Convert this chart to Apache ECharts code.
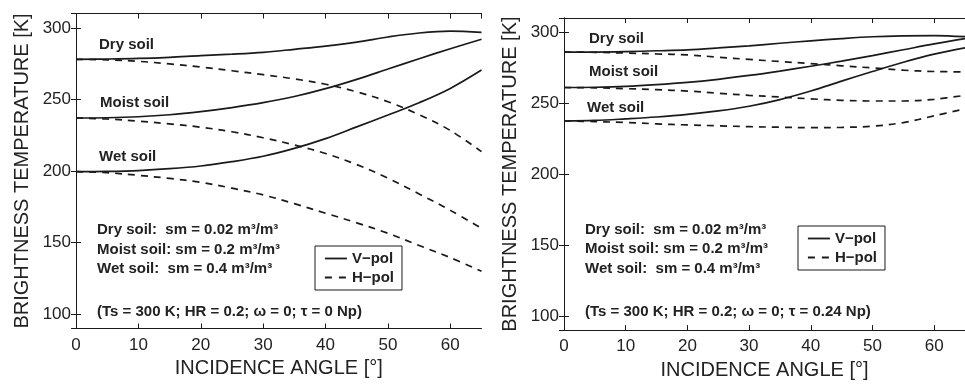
<!DOCTYPE html>
<html>
<head>
<meta charset="utf-8">
<script src="https://cdn.jsdelivr.net/npm/echarts@6/dist/echarts.min.js"></script>
<style>
html,body{margin:0;padding:0;background:#fff;}
#chart{width:965px;height:385px;}
</style>
</head>
<body>
<div id="chart"></div>
<script>
// Incidence angles (degrees)
const angles = [0, 5, 10, 15, 20, 25, 30, 35, 40, 45, 50, 55, 60, 65];

// Left panel: tau = 0 Np
const dryV_L   = [278, 278.2, 278.6, 279.4, 280.6, 281.6, 282.9, 285.0, 287.2, 290.0, 293.6, 296.4, 297.7, 296.8];
const dryH_L   = [278, 277.6, 276.6, 274.8, 272.6, 270.0, 267.3, 264.3, 260.6, 255.3, 248.4, 239.3, 228.3, 213.5];
const moistV_L = [237, 237.2, 237.9, 239.3, 241.5, 244.3, 247.7, 252.0, 257.5, 264.0, 271.2, 278.4, 285.4, 292.0];
const moistH_L = [237, 236.3, 234.8, 232.9, 230.6, 227.4, 223.2, 218.2, 212.2, 204.5, 195.0, 184.0, 172.5, 160.0];
const wetV_L   = [199.5, 199.7, 200.3, 201.6, 203.5, 206.5, 210.3, 215.8, 222.6, 230.8, 239.1, 247.7, 257.7, 270.5];
const wetH_L   = [199.5, 198.8, 197.0, 194.8, 192.1, 188.0, 183.3, 177.2, 170.5, 163.8, 156.5, 148.0, 139.5, 130.0];

// Right panel: tau = 0.24 Np
const dryV_R   = [286, 286, 286.3, 286.9, 287.6, 288.9, 290.4, 292.2, 293.9, 295.5, 296.8, 297.4, 297.6, 296.8];
const dryH_R   = [286, 285.8, 285.3, 284.7, 284.0, 282.4, 280.8, 279.3, 277.9, 276.3, 274.8, 273.2, 272.3, 272.0];
const moistV_R = [261, 261.2, 261.8, 263.0, 264.6, 266.8, 269.5, 272.6, 276.0, 279.6, 283.5, 287.6, 291.7, 295.4];
const moistH_R = [261, 260.8, 260.2, 259.5, 258.5, 257.0, 255.5, 254.3, 253.0, 252.0, 251.5, 251.5, 252.7, 255.5];
const wetV_R   = [237.4, 237.8, 238.9, 240.2, 242.0, 244.5, 247.8, 252.5, 258.5, 265.5, 272.3, 278.8, 284.5, 289.0];
const wetH_R   = [237.4, 237.0, 236.3, 235.4, 234.6, 234.0, 233.4, 233.0, 232.7, 232.9, 233.7, 236.3, 241.0, 246.0];

const xTitle = 'INCIDENCE ANGLE [°]';
const yTitle = 'BRIGHTNESS TEMPERATURE [K]';
const legendNames = ['V\u2212pol', 'H\u2212pol'];

const FONT = '"Liberation Sans", Arial, sans-serif';
const INK = '#1a1a1a';
const DASH = [7, 6];

function pairs(arr) { return angles.map((a, i) => [a, arr[i]]); }

function mainX(gi) {
  return {
    type: 'value', gridIndex: gi, min: 0, max: 65, interval: 10, position: 'bottom',
    name: xTitle, nameLocation: 'middle', nameGap: 27,
    nameTextStyle: { fontFamily: FONT, fontSize: 20, color: '#222' },
    axisLine: { show: true, lineStyle: { color: INK, width: 1 } },
    axisTick: { show: true, inside: true, length: 5, lineStyle: { color: INK } },
    axisLabel: { fontFamily: FONT, fontSize: 17, color: '#222', margin: 8, showMaxLabel: false },
    splitLine: { show: false }
  };
}
function topX(gi) {
  return {
    type: 'value', gridIndex: gi, min: 0, max: 65, interval: 10, position: 'top',
    axisLine: { show: true, lineStyle: { color: INK, width: 1 } },
    axisTick: { show: true, inside: true, length: 5, lineStyle: { color: INK } },
    axisLabel: { show: false }, splitLine: { show: false }
  };
}
function mainY(gi) {
  return {
    type: 'value', gridIndex: gi, min: 90, max: 310, splitNumber: 5, position: 'left',
    name: yTitle, nameLocation: 'middle', nameGap: 44,
    nameTextStyle: { fontFamily: FONT, fontSize: 20, color: '#222' },
    axisLine: { show: true, lineStyle: { color: INK, width: 1 } },
    axisTick: { show: true, inside: true, length: 5, lineStyle: { color: INK } },
    axisLabel: { fontFamily: FONT, fontSize: 17, color: '#222', margin: 5, showMinLabel: false, showMaxLabel: false },
    splitLine: { show: false }
  };
}
function rightY(gi) {
  return {
    type: 'value', gridIndex: gi, min: 90, max: 310, splitNumber: 5, position: 'right',
    axisLine: { show: true, lineStyle: { color: INK, width: 1 } },
    axisTick: { show: true, inside: true, length: 5, lineStyle: { color: INK } },
    axisLabel: { show: false }, splitLine: { show: false }
  };
}

function lineSeries(name, data, xi, yi, dashed) {
  return {
    type: 'line', name: name, xAxisIndex: xi, yAxisIndex: yi,
    data: pairs(data), smooth: 0.35, symbol: 'none', silent: true,
    lineStyle: { color: INK, width: 1.7, type: dashed ? DASH : 'solid' },
    itemStyle: { color: INK }
  };
}

const series = [
  lineSeries(legendNames[0], dryV_L, 0, 0, false),
  lineSeries(legendNames[1], dryH_L, 0, 0, true),
  lineSeries(legendNames[0], moistV_L, 0, 0, false),
  lineSeries(legendNames[1], moistH_L, 0, 0, true),
  lineSeries(legendNames[0], wetV_L, 0, 0, false),
  lineSeries(legendNames[1], wetH_L, 0, 0, true),
  lineSeries(legendNames[0], dryV_R, 2, 2, false),
  lineSeries(legendNames[1], dryH_R, 2, 2, true),
  lineSeries(legendNames[0], moistV_R, 2, 2, false),
  lineSeries(legendNames[1], moistH_R, 2, 2, true),
  lineSeries(legendNames[0], wetV_R, 2, 2, false),
  lineSeries(legendNames[1], wetH_R, 2, 2, true)
];

function legendAt(left, top) {
  return {
    data: [
      { name: legendNames[0], lineStyle: { type: 'solid', width: 1.8, color: INK } },
      { name: legendNames[1], lineStyle: { type: [7, 7], width: 1.8, color: INK } }
    ],
    orient: 'vertical', left: left, top: top,
    borderColor: INK, borderWidth: 1, padding: [5, 8, 5, 9], itemGap: 4,
    itemWidth: 22, itemHeight: 14, selectedMode: false,
    itemStyle: { opacity: 0, borderWidth: 0 },
    textStyle: { fontFamily: FONT, fontSize: 15, fontWeight: 'bold', color: '#222' }
  };
}

function txt(x, y, s) {
  return { type: 'text', x: x, y: y, silent: true,
    style: { text: s, fill: '#222', font: 'bold 15px ' + FONT, verticalAlign: 'middle', align: 'left' } };
}

const graphics = [
  txt(99, 45, 'Dry soil'),
  txt(100, 103, 'Moist soil'),
  txt(99, 157, 'Wet soil'),
  txt(97, 230, 'Dry soil:  sm = 0.02 m³/m³'),
  txt(97, 250, 'Moist soil: sm = 0.2 m³/m³'),
  txt(97, 269, 'Wet soil:  sm = 0.4 m³/m³'),
  txt(97, 312, '(Ts = 300 K; HR = 0.2; \u03c9 = 0; \u03c4 = 0 Np)'),
  txt(589, 39, 'Dry soil'),
  txt(589, 72, 'Moist soil'),
  txt(587, 108, 'Wet soil'),
  txt(585, 230, 'Dry soil:  sm = 0.02 m³/m³'),
  txt(585, 249, 'Moist soil: sm = 0.2 m³/m³'),
  txt(585, 269, 'Wet soil:  sm = 0.4 m³/m³'),
  txt(585, 312, '(Ts = 300 K; HR = 0.2; \u03c9 = 0; \u03c4 = 0.24 Np)')
];

const chart = echarts.init(document.getElementById('chart'), null, { renderer: 'canvas' });
chart.setOption({
  backgroundColor: '#ffffff',
  animation: false,
  grid: [
    { left: 76, top: 13.5, width: 405.5, height: 315, containLabel: false },
    { left: 564, top: 18, width: 405, height: 314.5, containLabel: false }
  ],
  xAxis: [mainX(0), topX(0), mainX(1), topX(1)],
  yAxis: [mainY(0), rightY(0), mainY(1), rightY(1)],
  legend: [legendAt(315, 246), legendAt(798, 226)],
  series: series,
  graphic: graphics
});
</script>
</body>
</html>
